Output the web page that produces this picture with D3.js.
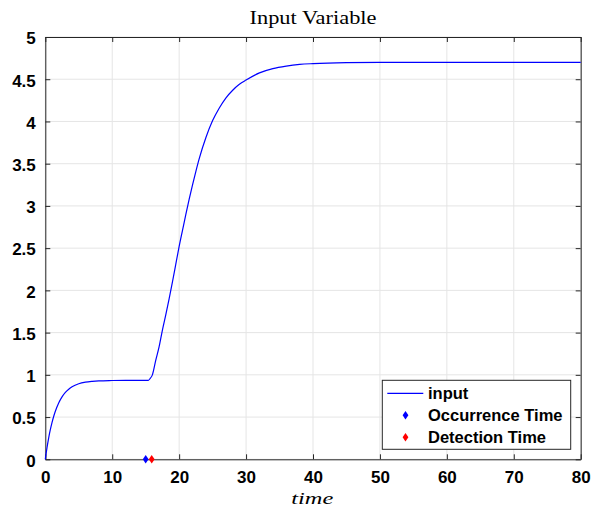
<!DOCTYPE html>
<html><head><meta charset="utf-8">
<script src="https://cdn.jsdelivr.net/npm/d3@7"></script>
<style>body{margin:0;background:#fff}svg{display:block}</style>
</head><body>
<svg id="c" width="591" height="512"></svg>
<script>
// ---- data ----
const timeValues = [0,0.25,0.5,0.75,1,1.25,1.5,2,2.5,3,3.5,4,5,6,7,8,10,12,15.4,15.7,16,16.5,17,17.5,18,18.5,19,19.5,20,20.5,21,21.5,22,22.5,23,24,25,26,27,28,29,30,32,34,36,38,40,45,50,60,70,80];
const inputValues = [0,0.135,0.251,0.35,0.435,0.507,0.569,0.667,0.739,0.792,0.83,0.858,0.894,0.913,0.923,0.929,0.933,0.935,0.935,0.96,1.0,1.17,1.33,1.53,1.71,1.9,2.1,2.31,2.52,2.71,2.9,3.08,3.25,3.41,3.56,3.81,4.01,4.16,4.28,4.37,4.44,4.49,4.575,4.625,4.655,4.675,4.685,4.697,4.7,4.7,4.7,4.7];
const occurrenceTime = [15];
const detectionTime = [15.9];
const xTicks = [0,10,20,30,40,50,60,70,80];
const yTicks = [0,0.5,1,1.5,2,2.5,3,3.5,4,4.5,5];
const legendLabels = ["input","Occurrence Time","Detection Time"];
const titleText = "Input Variable";
const xLabelText = "time";

// ---- layout ----
const svg = d3.select("#c");
const L=45.3, R=580.7, T=37, B=459.3;
const x = d3.scaleLinear().domain([0,80]).range([L,R]);
const y = d3.scaleLinear().domain([0,5]).range([B,T]);
const axisColor="#262626", gridColor="#e5e5e5";

// grid
const g = svg.append("g");
g.selectAll(".gx").data(xTicks).join("line")
  .attr("x1",d=>x(d)).attr("x2",d=>x(d)).attr("y1",T).attr("y2",B)
  .attr("stroke",gridColor).attr("stroke-width",1);
g.selectAll(".gy").data(yTicks).join("line")
  .attr("y1",d=>y(d)).attr("y2",d=>y(d)).attr("x1",L).attr("x2",R)
  .attr("stroke",gridColor).attr("stroke-width",1);

// axes with inward ticks
const tickFont = "bold 17px 'Liberation Sans', Arial, sans-serif";
const xAxisB = d3.axisBottom(x).tickValues(xTicks).tickSizeInner(-5).tickSizeOuter(0).tickPadding(12).tickFormat(d3.format("d"));
const xAxisT = d3.axisTop(x).tickValues(xTicks).tickSizeInner(-5).tickSizeOuter(0).tickFormat("");
const yAxisL = d3.axisLeft(y).tickValues(yTicks).tickSizeInner(-5).tickSizeOuter(0).tickPadding(9.5).tickFormat(d=>String(d));
const yAxisR = d3.axisRight(y).tickValues(yTicks).tickSizeInner(-5).tickSizeOuter(0).tickFormat("");
function style(sel){
  sel.selectAll("path").attr("stroke",axisColor).attr("stroke-width",1);
  sel.selectAll("line").attr("stroke",axisColor).attr("stroke-width",1);
  sel.selectAll("text").attr("fill","#000").style("font",tickFont);
}
svg.append("g").attr("transform",`translate(0,${B})`).call(xAxisB).call(style);
svg.append("g").attr("transform",`translate(0,${T})`).call(xAxisT).call(style);
svg.append("g").attr("transform",`translate(${L},0)`).call(yAxisL).call(style)
  .selectAll("text").attr("dy","0.4em");
svg.append("g").attr("transform",`translate(${R},0)`).call(yAxisR).call(style);

// line
const pts = timeValues.map((t,i)=>[t,inputValues[i]]);
svg.append("path").datum(pts)
  .attr("fill","none").attr("stroke","#0000ff").attr("stroke-width",1.2)
  .attr("d",d3.line().x(d=>x(d[0])).y(d=>y(d[1])).curve(d3.curveMonotoneX));

// diamond marker
function diamond(cx,cy){const w=2.9,h=4.3;return `M${cx},${cy-h}L${cx+w},${cy}L${cx},${cy+h}L${cx-w},${cy}Z`;}
svg.selectAll(".occ").data(occurrenceTime).join("path").attr("d",d=>diamond(x(d),y(0))).attr("fill","#0000ff");
svg.selectAll(".det").data(detectionTime).join("path").attr("d",d=>diamond(x(d),y(0))).attr("fill","#ff0000");

// title & x label
svg.append("text").attr("x",313).attr("y",24).attr("text-anchor","middle")
  .attr("textLength",127).attr("lengthAdjust","spacingAndGlyphs")
  .style("font","19.5px 'Liberation Serif','DejaVu Serif',serif").attr("fill","#000").text(titleText);
svg.append("text").attr("x",312.3).attr("y",504).attr("text-anchor","middle")
  .attr("textLength",42).attr("lengthAdjust","spacingAndGlyphs")
  .style("font","italic 17px 'Liberation Serif','DejaVu Serif',serif").attr("fill","#000").text(xLabelText);

// legend
const lg = svg.append("g");
lg.append("rect").attr("x",382.3).attr("y",380.3).attr("width",188.4).attr("height",69)
  .attr("fill","#fff").attr("stroke",axisColor).attr("stroke-width",1);
const rows=[393.3,415.3,437.3];
lg.append("line").attr("x1",387.3).attr("x2",423.3).attr("y1",rows[0]).attr("y2",rows[0]).attr("stroke","#0000ff").attr("stroke-width",1.2);
lg.append("path").attr("d",diamond(405.5,rows[1])).attr("fill","#0000ff");
lg.append("path").attr("d",diamond(405.5,rows[2])).attr("fill","#ff0000");
lg.selectAll(".lt").data(legendLabels).join("text")
  .attr("x",428).attr("y",(d,i)=>rows[i]).attr("dy","0.36em")
  .style("font","bold 16.5px 'Liberation Sans', Arial, sans-serif").attr("fill","#000").text(d=>d);
</script>
</body></html>
